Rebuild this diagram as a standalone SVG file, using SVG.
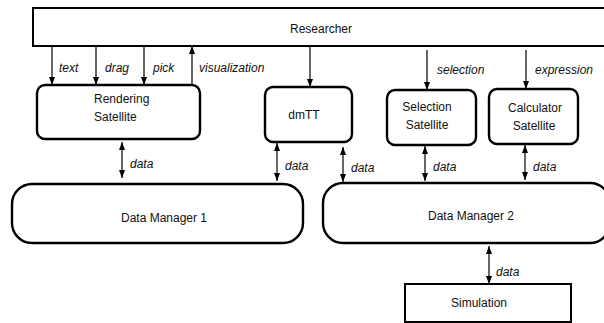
<svg xmlns="http://www.w3.org/2000/svg" width="604" height="323" viewBox="0 0 604 323">
<defs>
<marker id="ah" viewBox="0 0 8 6" refX="8" refY="3" markerWidth="8" markerHeight="6" markerUnits="userSpaceOnUse" orient="auto-start-reverse">
<path d="M0,0 L8,3 L0,6 z" fill="#000"/>
</marker>
<style>
.box{fill:#fff;stroke:#000;stroke-width:2.4}
.sq{fill:#fff;stroke:#000;stroke-width:2}
.t{font-family:"Liberation Sans",Arial,sans-serif;font-size:12px;fill:#111}
.c{text-anchor:middle}
.lbl{font-family:"Liberation Sans",Arial,sans-serif;font-size:12px;font-style:italic;fill:#111}
.a{stroke:#000;stroke-width:1.2;fill:none;marker-end:url(#ah)}
.b{stroke:#000;stroke-width:1.2;fill:none;marker-start:url(#ah);marker-end:url(#ah)}
</style>
</defs>
<rect width="604" height="323" fill="#fff"/>
<g id="researcher">
<rect class="sq" x="33" y="8" width="590" height="38"/>
<text class="t c" x="321" y="33">Researcher</text>
</g>
<g id="rendering">
<rect class="box" x="37" y="85" width="163" height="54" rx="8"/>
<text class="t" x="94" y="103">Rendering</text>
<text class="t" x="94" y="121">Satellite</text>
</g>
<g id="dmtt">
<rect class="box" x="265" y="87" width="87" height="55" rx="8"/>
<text class="t c" x="304" y="119">dmTT</text>
</g>
<g id="selection">
<rect class="box" x="387" y="90" width="89" height="55" rx="8"/>
<text class="t c" x="427" y="111">Selection</text>
<text class="t c" x="427" y="129">Satellite</text>
</g>
<g id="calculator">
<rect class="box" x="489" y="89" width="89" height="55" rx="8"/>
<text class="t c" x="535" y="112">Calculator</text>
<text class="t c" x="534" y="130">Satellite</text>
</g>
<g id="dm1">
<rect class="box" x="12" y="184" width="291" height="59" rx="20"/>
<text class="t c" x="164" y="222">Data Manager 1</text>
</g>
<g id="dm2">
<rect class="box" x="323" y="183" width="287" height="60" rx="20"/>
<text class="t c" x="471" y="220">Data Manager 2</text>
</g>
<g id="simulation">
<rect class="sq" x="405" y="284" width="166" height="38"/>
<text class="t c" x="479" y="307">Simulation</text>
</g>
<g id="connectors">
<line class="a" x1="52" y1="46" x2="52" y2="85"/>
<line class="a" x1="96" y1="46" x2="96" y2="85"/>
<line class="a" x1="144" y1="46" x2="144" y2="85"/>
<line class="a" x1="192" y1="85" x2="192" y2="46"/>
<line class="a" x1="310" y1="46" x2="310" y2="87"/>
<line class="a" x1="427" y1="50" x2="427" y2="90"/>
<line class="a" x1="526" y1="50" x2="526" y2="89"/>
<line class="b" x1="122" y1="142" x2="122" y2="178"/>
<line class="b" x1="277" y1="143" x2="277" y2="181"/>
<line class="b" x1="343" y1="147" x2="343" y2="182"/>
<line class="b" x1="425" y1="146" x2="425" y2="181"/>
<line class="b" x1="525" y1="145" x2="525" y2="180"/>
<line class="b" x1="489" y1="246" x2="489" y2="284"/>
<text class="lbl" x="59" y="72">text</text>
<text class="lbl" x="105" y="72">drag</text>
<text class="lbl" x="153" y="72">pick</text>
<text class="lbl" x="199" y="72">visualization</text>
<text class="lbl" x="437" y="74">selection</text>
<text class="lbl" x="535" y="74">expression</text>
<text class="lbl" x="130" y="168">data</text>
<text class="lbl" x="285" y="170">data</text>
<text class="lbl" x="351" y="172">data</text>
<text class="lbl" x="433" y="171">data</text>
<text class="lbl" x="533" y="171">data</text>
<text class="lbl" x="496" y="276">data</text>
</g>
</svg>
